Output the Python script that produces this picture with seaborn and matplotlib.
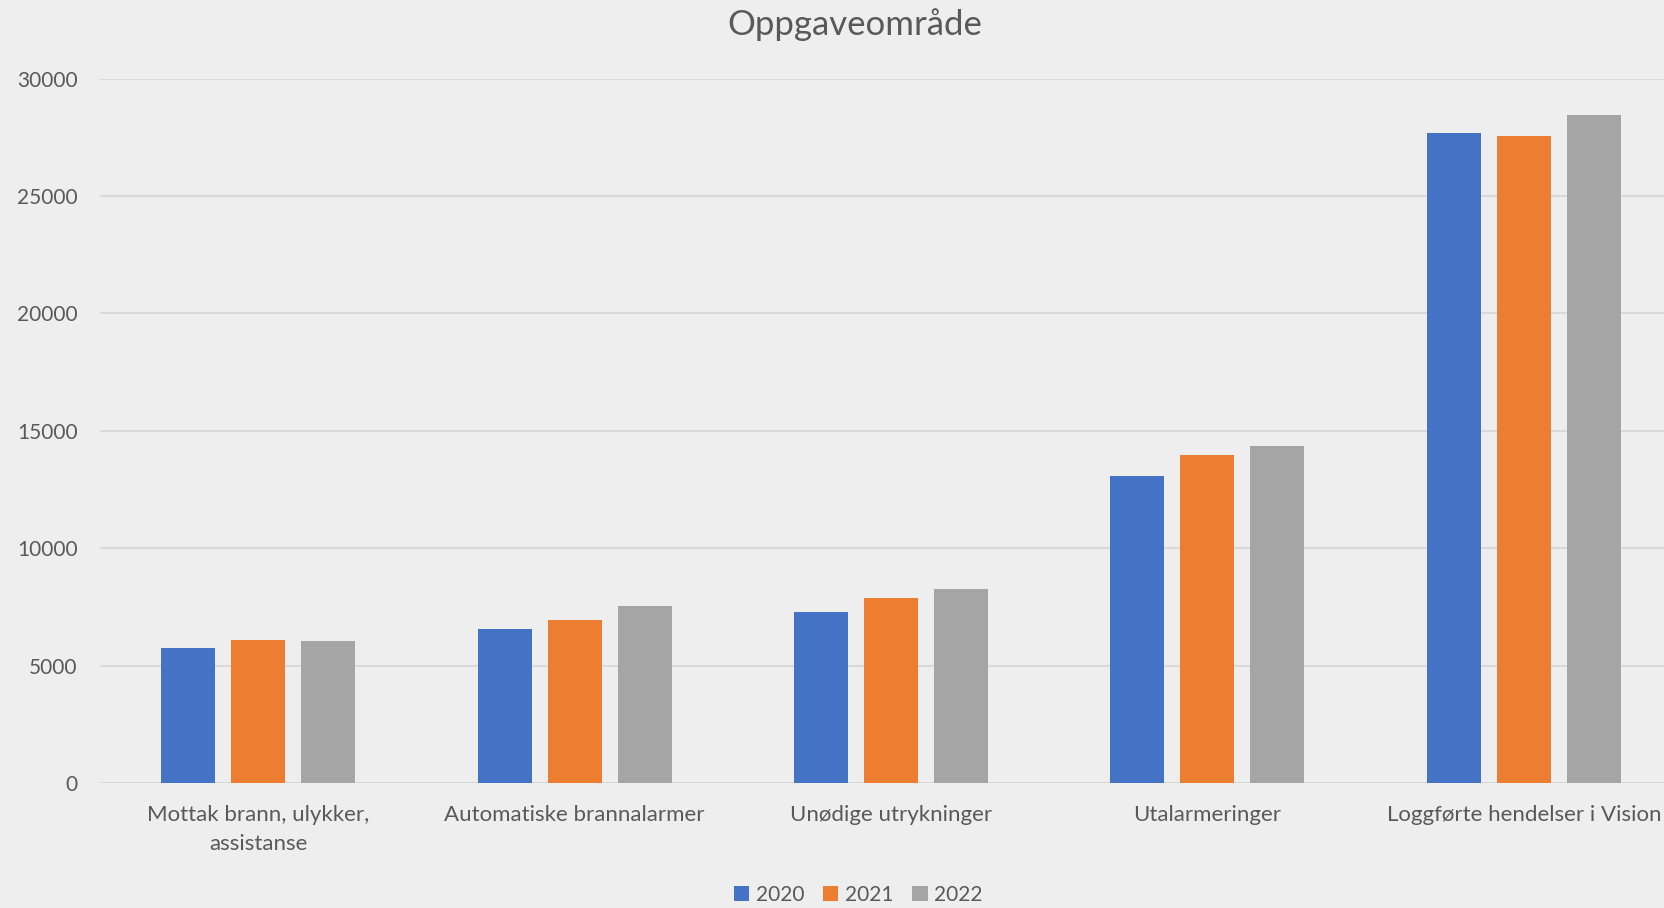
import pandas as pd
import matplotlib.pyplot as plt
import seaborn as sns

# Data
categories = ["Mottak brann, ulykker,\nassistanse", "Automatiske brannalarmer",
              "Unødige utrykninger", "Utalarmeringer", "Loggførte hendelser i Vision"]
years = ["2020", "2021", "2022"]
v2020 = [5730, 6550, 7300, 13060, 27690]
v2021 = [6080, 6960, 7860, 13960, 27560]
v2022 = [6050, 7540, 8270, 14350, 28470]
colors = ["#4472C4", "#ED7D31", "#A5A5A5"]

df = pd.DataFrame({
    "Kategori": categories * 3,
    "År": [y for y in years for _ in categories],
    "Antall": v2020 + v2021 + v2022,
})

sns.set_theme(style="white")
plt.rcParams['font.family'] = ['Lato', 'DejaVu Sans']
bg = "#EEEEEE"
txt = "#595959"

W, H = 1665, 908
fig = plt.figure(figsize=(W / 100, H / 100), dpi=100, facecolor=bg)
# axes runs a bit past the right edge, like the cropped original
ax = fig.add_axes([100 / W, (H - 783) / H, 1582 / W, (783 - 78.7) / H])
ax.set_facecolor(bg)

sns.barplot(data=df, x="Kategori", y="Antall", hue="År", palette=colors,
            width=0.664, gap=0.23, saturation=1, linewidth=0, ax=ax)

handles, labels = ax.get_legend_handles_labels()
ax.legend_.remove()

ax.set_ylim(0, 30000)
ax.set_yticks(range(0, 30001, 5000))
ax.set_xlabel("")
ax.set_ylabel("")
for s in ax.spines.values():
    s.set_visible(False)
ax.yaxis.grid(True, color="#D9D9D9", linewidth=1.5)
ax.set_axisbelow(True)
ax.tick_params(axis="y", length=0, pad=16, labelsize=15, labelcolor=txt)
ax.tick_params(axis="x", length=0, pad=16, labelsize=16, labelcolor=txt)
for lbl in ax.get_xticklabels():
    lbl.set_linespacing(1.55)

fig.text(855 / W, 1 - 25 / H, "Oppgaveområde", ha="center", va="center",
         fontsize=25, color=txt)

fig.legend(handles, labels, loc="center", bbox_to_anchor=(858 / W, 1 - 895 / H),
           ncol=3, frameon=False, fontsize=15, labelcolor=txt,
           handlelength=0.75, handleheight=0.75, handletextpad=0.3,
           columnspacing=0.9)

fig.savefig("out.png", dpi=100, facecolor=bg)
